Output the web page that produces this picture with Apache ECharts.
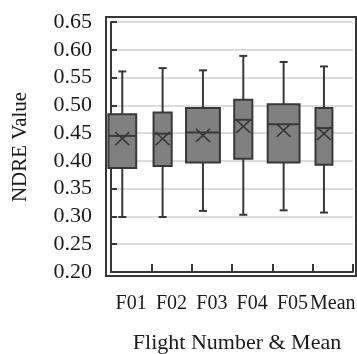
<!DOCTYPE html>
<html><head><meta charset="utf-8">
<script src="https://cdn.jsdelivr.net/npm/echarts@6/dist/echarts.min.js"></script>
<style>html,body{margin:0;padding:0;background:#fff}#c{width:357px;height:354px}</style>
</head><body><div id="c"></div>
<script>
// ---- data ----
const categories  = ['F01', 'F02', 'F03', 'F04', 'F05', 'Mean'];
const whiskerLow  = [0.299, 0.299, 0.310, 0.303, 0.311, 0.307];
const q1          = [0.387, 0.391, 0.397, 0.404, 0.397, 0.393];
const median      = [0.445, 0.449, 0.451, 0.474, 0.466, 0.459];
const q3          = [0.484, 0.487, 0.495, 0.510, 0.502, 0.495];
const whiskerHigh = [0.561, 0.567, 0.563, 0.589, 0.578, 0.570];
const meanValue   = [0.440, 0.440, 0.446, 0.462, 0.455, 0.449];
const yMin = 0.20, yMax = 0.65, yStep = 0.05;

// ---- styles ----
const boxWidthRatio = [0.69, 0.45, 0.84, 0.45, 0.79, 0.42];
const boxShift = -0.22;
const dark = '#383838';
const font = '"Liberation Serif", "Times New Roman", serif';

const seriesData = categories.map((c, i) => [i, whiskerLow[i], q1[i], median[i], q3[i], whiskerHigh[i], meanValue[i]]);

function renderItem(params, api) {
  const i = api.value(0);
  const band = api.size([1, 0])[0];
  const x = api.coord([i, yMin])[0] + boxShift * band;
  const w = boxWidthRatio[i] * band;
  const Y = v => api.coord([i, v])[1];
  const yLo = Y(api.value(1)), yQ1 = Y(api.value(2)), yMed = Y(api.value(3)),
        yQ3 = Y(api.value(4)), yHi = Y(api.value(5)), yMean = Y(api.value(6));
  const cap = 4, mx = 7, my = 6.5;
  const line = (x1, y1, x2, y2, lw) => ({type: 'line', shape: {x1, y1, x2, y2}, style: {stroke: dark, lineWidth: lw || 2}});
  return {type: 'group', children: [
    line(x, yHi, x, yQ3), line(x, yQ1, x, yLo),
    line(x - cap, yHi, x + cap, yHi), line(x - cap, yLo, x + cap, yLo),
    {type: 'rect', shape: {x: x - w / 2, y: yQ3, width: w, height: yQ1 - yQ3}, style: {fill: '#808080', stroke: dark, lineWidth: 2}},
    line(x - w / 2, yMed, x + w / 2, yMed),
    line(x - mx, yMean - my, x + mx, yMean + my, 1.6),
    line(x - mx, yMean + my, x + mx, yMean - my, 1.6)
  ]};
}

const chart = echarts.init(document.getElementById('c'));
chart.setOption({
  animation: false,
  backgroundColor: '#fff',
  textStyle: {fontFamily: font},
  grid: {left: 111, top: 22, right: 4, bottom: 82, containLabel: false, outerBoundsMode: 'none'},
  graphic: [{type: 'rect', z: 100, shape: {x: 106, y: 17, width: 250, height: 259}, style: {fill: 'none', stroke: dark, lineWidth: 2}}],
  xAxis: {
    type: 'category', data: categories, boundaryGap: true,
    name: 'Flight Number & Mean', nameLocation: 'middle', nameGap: 60,
    nameTextStyle: {fontFamily: font, fontSize: 22, color: '#1a1a1a', verticalAlign: 'top', padding: [0, 0, 0, 10]},
    axisLine: {show: true, lineStyle: {color: dark, width: 2}},
    axisTick: {show: true, inside: true, length: 8, interval: 0, lineStyle: {color: dark, width: 2}},
    axisLabel: {fontFamily: font, fontSize: 20, color: '#1a1a1a', margin: 22, interval: 0, hideOverlap: false},
    splitLine: {show: false}
  },
  yAxis: {
    type: 'value', min: yMin, max: yMax, interval: yStep,
    name: 'NDRE Value', nameLocation: 'middle', nameGap: 80, nameRotate: 90,
    nameTextStyle: {fontFamily: font, fontSize: 21, color: '#1a1a1a'},
    axisLine: {show: true, lineStyle: {color: dark, width: 2}},
    axisTick: {show: true, inside: true, length: 6, lineStyle: {color: dark, width: 2}},
    axisLabel: {fontFamily: font, fontSize: 22, color: '#1a1a1a', margin: 19, formatter: v => v.toFixed(2)},
    splitLine: {show: true, lineStyle: {color: '#dcdcdc', width: 2}}
  },
  series: [{
    type: 'custom', renderItem: renderItem, data: seriesData,
    encode: {x: 0, y: [1, 2, 3, 4, 5, 6]}, clip: false
  }]
});
</script>
</body></html>
